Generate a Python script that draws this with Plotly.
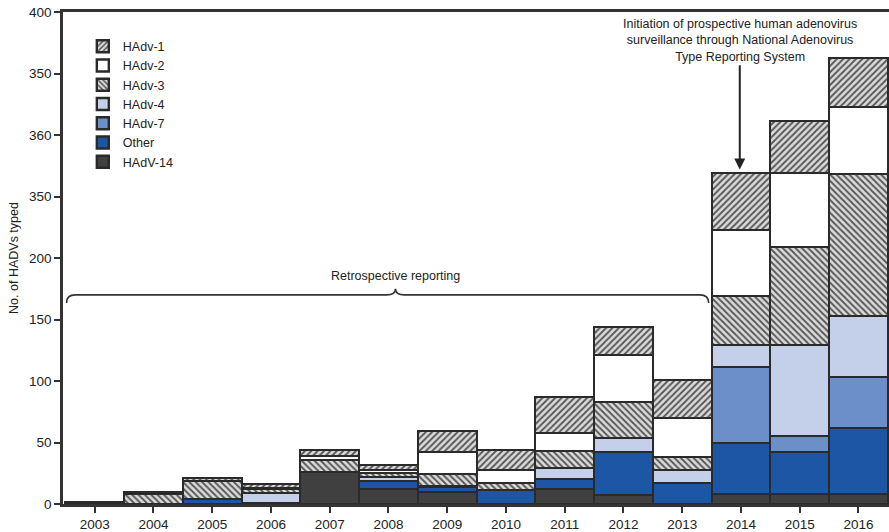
import plotly.graph_objects as go

# ---------------- data ----------------
years = [2003, 2004, 2005, 2006, 2007, 2008, 2009, 2010, 2011, 2012, 2013, 2014, 2015, 2016]
year_labels = [str(y) for y in years]

hadv14 = [2, 0, 0, 1, 26, 12, 10, 0, 12, 7, 0, 8, 8, 8]
other  = [0, 0, 4, 0, 0, 7, 4, 11, 8, 35, 17, 42, 34, 54]
hadv7  = [0, 0, 0, 0, 0, 0, 0, 0, 0, 0, 0, 61, 13, 41]
hadv4  = [0, 0, 0, 8, 0, 3, 1, 0, 9, 12, 11, 18, 74, 50]
hadv3  = [0, 8, 15, 3, 10, 3, 9, 6, 14, 29, 10, 40, 80, 115]
hadv2  = [0, 0, 0, 1, 3, 3, 18, 11, 15, 38, 32, 54, 60, 55]
hadv1  = [0, 2, 2, 3, 5, 4, 17, 16, 29, 23, 31, 46, 42, 40]

y_tickvals = [0, 50, 100, 150, 200, 250, 300, 350, 400]
y_ticktext = ["0", "50", "100", "150", "200", "350", "360", "350", "400"]

# annotation geometry (data units)
brace_x0, brace_x1, brace_xc = 2002.52, 2013.45, 2008.12
brace_y_end, brace_y_line, brace_y_peak = 163.5, 170.0, 175.0
brace_dx = 0.15
retro_text_y = 185.5
note_x, note_y = 2013.98, 377
arrow_tail_y, arrow_tip_y = 358, 272

FONT = "Liberation Sans, Arial, Helvetica, sans-serif"
EDGE = "#2a2a2a"

series = [
    ("HAdV-14", hadv14, dict(color="#404040")),
    ("Other",   other,  dict(color="#1d56a5")),
    ("HAdv-7",  hadv7,  dict(color="#6c8fca")),
    ("HAdv-4",  hadv4,  dict(color="#c4cfea")),
    ("HAdv-3",  hadv3,  dict(color="#d6d6d6",
                             pattern=dict(shape="\\", fgcolor="#555555", bgcolor="#dadada",
                                          size=4.5, solidity=0.4, fillmode="replace"))),
    ("HAdv-2",  hadv2,  dict(color="#ffffff")),
    ("HAdv-1",  hadv1,  dict(color="#d6d6d6",
                             pattern=dict(shape="/", fgcolor="#555555", bgcolor="#dadada",
                                          size=4.5, solidity=0.4, fillmode="replace"))),
]

fig = go.Figure()
for name, vals, mk in series:
    mk = dict(mk)
    mk["line"] = dict(color=EDGE, width=2.4)
    fig.add_trace(go.Bar(x=years, y=vals, name=name, width=1.0, marker=mk))

# curly brace for retrospective reporting
brace_path = (
    f"M {brace_x0},{brace_y_end} "
    f"Q {brace_x0},{brace_y_line} {brace_x0 + brace_dx},{brace_y_line} "
    f"L {brace_xc - brace_dx},{brace_y_line} "
    f"Q {brace_xc},{brace_y_line} {brace_xc},{brace_y_peak} "
    f"Q {brace_xc},{brace_y_line} {brace_xc + brace_dx},{brace_y_line} "
    f"L {brace_x1 - brace_dx},{brace_y_line} "
    f"Q {brace_x1},{brace_y_line} {brace_x1},{brace_y_end}"
)
fig.add_shape(type="path", path=brace_path, xref="x", yref="y",
              line=dict(color="#333333", width=1.6))

fig.add_annotation(x=brace_xc, y=retro_text_y, xref="x", yref="y",
                   text="Retrospective reporting", showarrow=False,
                   font=dict(family=FONT, size=12.5, color="#222"))

fig.add_annotation(x=note_x, y=note_y, xref="x", yref="y",
                   text="Initiation of prospective human adenovirus<br>"
                        "surveillance through National Adenovirus<br>"
                        "Type Reporting System",
                   showarrow=False, align="center",
                   font=dict(family=FONT, size=12.5, color="#222"))

fig.add_annotation(x=note_x, y=arrow_tip_y, ax=note_x, ay=arrow_tail_y,
                   xref="x", yref="y", axref="x", ayref="y",
                   text="", showarrow=True, arrowhead=2, arrowsize=1.1,
                   arrowwidth=2, arrowcolor="#222")

fig.update_layout(
    width=889, height=532,
    barmode="stack", bargap=0,
    plot_bgcolor="white", paper_bgcolor="white",
    margin=dict(l=63, r=0, t=12, b=28),
    font=dict(family=FONT, size=13, color="#222"),
    showlegend=True,
    legend=dict(x=0.024, y=0.96, xanchor="left", yanchor="top",
                traceorder="reversed", bgcolor="rgba(0,0,0,0)",
                font=dict(family=FONT, size=12.5, color="#222")),
    xaxis=dict(range=[2002.46, 2016.52], tickmode="array", tickvals=years,
               ticktext=year_labels, ticks="outside", ticklen=6, tickwidth=2,
               tickcolor="#333", showline=True, linecolor="#333", linewidth=2.5,
               mirror=True, showgrid=False, zeroline=False,
               tickfont=dict(family=FONT, size=13.5, color="#222")),
    yaxis=dict(range=[0, 400], tickmode="array", tickvals=y_tickvals,
               ticktext=y_ticktext, ticks="outside", ticklen=6, tickwidth=2,
               tickcolor="#333", showline=True, linecolor="#333", linewidth=2.5,
               showgrid=False, zeroline=False,
               title=dict(text="No. of HADVs typed", standoff=8,
                          font=dict(family=FONT, size=12.5, color="#222")),
               tickfont=dict(family=FONT, size=13.5, color="#222")),
)

fig.write_html("out.html", config={"displayModeBar": False},
               post_script="document.body.style.margin='0px';document.body.style.padding='0px';")
